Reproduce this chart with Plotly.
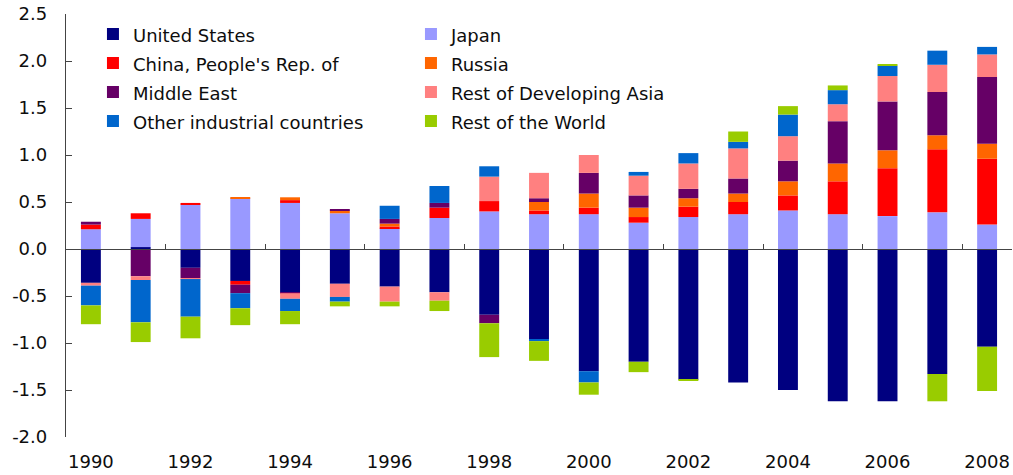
import plotly.graph_objects as go

years = list(range(1990, 2009))

series_names = ["United States", "Japan", "China, People's Rep. of", "Russia",
                "Middle East", "Rest of Developing Asia", "Other industrial countries",
                "Rest of the World"]
series_colors = ["#000080", "#9999FF", "#FF0000", "#FF6600",
                 "#660066", "#FF8080", "#0066CC", "#99CC00"]

united_states = [-0.36, 0.02, -0.20, -0.34, -0.46, -0.37, -0.40, -0.46, -0.70, -0.96,
                 -1.30, -1.20, -1.39, -1.42, -1.50, -1.62, -1.62, -1.33, -1.04]
japan = [0.21, 0.30, 0.47, 0.54, 0.49, 0.38, 0.22, 0.33, 0.40, 0.37,
         0.37, 0.28, 0.34, 0.37, 0.41, 0.37, 0.35, 0.39, 0.26]
china = [0.05, 0.06, 0.02, -0.04, 0.03, 0.00, 0.02, 0.11, 0.11, 0.04,
         0.07, 0.06, 0.11, 0.13, 0.16, 0.35, 0.51, 0.67, 0.70]
russia = [0.00, 0.00, 0.00, 0.01, 0.03, 0.03, 0.03, 0.00, 0.00, 0.09,
          0.15, 0.10, 0.09, 0.09, 0.15, 0.19, 0.19, 0.15, 0.16]
middle_east = [0.03, -0.29, -0.11, -0.09, -0.01, 0.01, 0.05, 0.05, -0.09, 0.04,
               0.22, 0.13, 0.10, 0.16, 0.22, 0.45, 0.52, 0.46, 0.71]
rest_dev_asia = [-0.03, -0.04, -0.01, 0.00, -0.06, -0.14, -0.16, -0.09, 0.26, 0.27,
                 0.19, 0.21, 0.27, 0.32, 0.26, 0.18, 0.27, 0.29, 0.24]
other_industrial = [-0.21, -0.45, -0.40, -0.16, -0.13, -0.05, 0.14, 0.18, 0.11, -0.02,
                    -0.12, 0.04, 0.11, 0.07, 0.23, 0.15, 0.11, 0.15, 0.08]
rest_of_world = [-0.20, -0.21, -0.23, -0.18, -0.14, -0.05, -0.05, -0.11, -0.36, -0.21,
                 -0.13, -0.11, -0.01, 0.11, 0.09, 0.05, 0.01, -0.29, -0.47]

series_values = [united_states, japan, china, russia, middle_east,
                 rest_dev_asia, other_industrial, rest_of_world]

x_tickvals = list(range(1990, 2009, 2))
x_ticktext = [str(y) for y in x_tickvals]
y_tickvals = [2.5, 2.0, 1.5, 1.0, 0.5, 0.0, -0.5, -1.0, -1.5, -2.0]
y_ticktext = ["2.5", "2.0", "1.5", "1.0", "0.5", "0.0", "-0.5", "-1.0", "-1.5", "-2.0"]
sep_ticks = [y + 1.5 for y in range(1990, 2007, 2)]

FONT = "DejaVu Sans"
AXIS_COLOR = "#444444"
TEXT_COLOR = "#0d0d0d"

fig = go.Figure()
for name, color, vals in zip(series_names, series_colors, series_values):
    fig.add_trace(go.Bar(
        x=years, y=vals,
        name='<span style="font-size:18px">' + name + '</span>',
        marker=dict(color=color, line=dict(width=0)),
    ))

# helper axis carrying the zero line with separator ticks
fig.add_trace(go.Scatter(x=[], y=[], xaxis="x2", yaxis="y", showlegend=False,
                         hoverinfo="skip"))

fig.update_layout(
    width=1013, height=475,
    margin=dict(l=66, r=1, t=14, b=38),
    paper_bgcolor="white", plot_bgcolor="white",
    barmode="relative", bargap=0.6,
    font=dict(family=FONT, size=18, color=TEXT_COLOR),
    showlegend=True,
    legend=dict(
        orientation="h", x=0.0285, xanchor="left", y=0.999, yanchor="top",
        entrywidth=273, entrywidthmode="pixels",
        font=dict(family=FONT, size=20, color=TEXT_COLOR),
        bgcolor="rgba(0,0,0,0)", traceorder="normal",
    ),
    xaxis=dict(
        range=[1989.5, 2008.5], tickvals=x_tickvals, ticktext=x_ticktext,
        ticks="", showline=False, showgrid=False, zeroline=False,
        ticklabelstandoff=12, tickfont=dict(family=FONT, size=18, color=TEXT_COLOR),
    ),
    xaxis2=dict(
        overlaying="x", anchor="free", position=2.0 / 4.5, side="bottom",
        range=[1989.5, 2008.5], tickvals=sep_ticks, showticklabels=False,
        ticks="inside", ticklen=5, tickwidth=1.3, tickcolor=AXIS_COLOR,
        showline=True, linecolor=AXIS_COLOR, linewidth=1.3,
        showgrid=False, zeroline=False,
    ),
    yaxis=dict(
        range=[-2.0, 2.5], tickvals=y_tickvals, ticktext=y_ticktext,
        ticks="inside", ticklen=6, tickwidth=1.3, tickcolor=AXIS_COLOR,
        showline=True, linecolor=AXIS_COLOR, linewidth=1.3,
        showgrid=False, zeroline=False,
        ticklabelstandoff=14, tickfont=dict(family=FONT, size=18, color=TEXT_COLOR),
    ),
)

fig.write_html(
    "out.html",
    config={"displayModeBar": False},
    post_script="document.body.style.margin='0';document.body.style.overflow='hidden';",
)
